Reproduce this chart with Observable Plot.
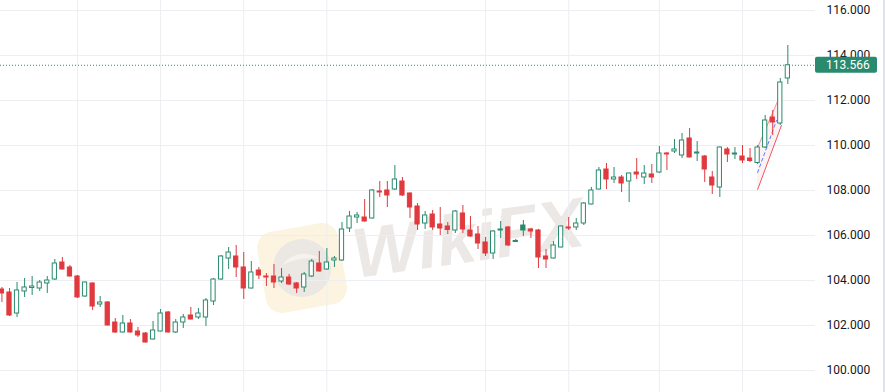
<!DOCTYPE html>
<html>
<head>
<meta charset="utf-8">
<script src="https://cdn.jsdelivr.net/npm/d3@7"></script>
<script src="https://cdn.jsdelivr.net/npm/@observablehq/plot@0.6"></script>
<style>
  html, body { margin: 0; padding: 0; background: #fff; }
  #wrap { position: relative; width: 885px; height: 392px; overflow: hidden; }
  #wm { position: absolute; left: 0; top: 0; z-index: 0; pointer-events: none; }
  #chart { position: relative; z-index: 1; }
  #border { position: absolute; left: 883px; top: 0; width: 2px; height: 392px; background: #e0e3eb; z-index: 2; }
</style>
</head>
<body>
<div id="wrap">
  <svg id="wm" width="885" height="392">
    <g transform="rotate(-10 302 268)">
      <rect x="261" y="227" width="82" height="82" rx="16" fill="#fcf4e0"/>
      <circle cx="302" cy="268" r="29" fill="#ebe7e2"/>
      <path d="M282 262 Q302 246 322 262 Q302 256 282 262 Z" fill="#f6f3ef"/>
    </g>
    <text x="356" y="278" transform="rotate(-8 356 278)" font-family="Liberation Sans, Arial, sans-serif" font-weight="bold" font-style="italic" font-size="70" fill="#ebe8e6">WikiFX</text>
  </svg>
  <div id="chart"></div>
  <div id="border"></div>
</div>
<script>
// ---- Data ----
const opens = [
  103.600,103.467,102.533,103.511,103.667,103.644,103.867,104.044,104.800,104.578,
  104.178,103.289,103.867,102.933,103.022,102.133,101.689,102.089,101.733,101.644,
  101.378,101.733,102.578,101.689,102.133,102.444,102.356,102.356,103.067,104.044,
  104.978,105.067,104.578,103.644,104.444,104.178,104.178,103.956,104.133,103.867,
  103.689,104.178,104.756,104.489,104.889,104.889,106.311,106.800,106.800,106.756,
  107.956,108.000,108.044,108.400,107.867,107.289,106.533,106.933,106.489,106.400,
  106.222,106.978,106.222,106.044,105.689,105.200,106.222,106.356,105.711,106.444,
  106.267,106.222,105.067,104.978,105.467,106.356,106.356,106.533,107.378,108.044,
  108.933,108.489,108.578,108.400,108.800,108.578,108.711,108.800,109.644,109.733,
  109.556,110.311,109.644,109.511,108.578,108.133,109.822,109.600,109.511,109.422,
  109.222,109.911,111.244,110.978,112.978
];
const highs = [
  103.689,103.644,103.911,104.089,104.178,104.000,104.178,104.933,105.022,104.667,
  104.222,103.933,103.889,103.289,103.067,102.311,102.444,102.267,101.911,101.689,
  102.178,102.711,102.622,102.267,102.489,102.800,102.756,103.200,104.089,105.111,
  105.467,105.556,105.244,104.844,104.578,104.311,104.711,104.533,104.267,103.911,
  104.356,104.933,105.289,105.422,105.067,106.578,107.067,107.022,107.600,108.044,
  108.400,108.400,109.111,108.578,107.889,107.422,107.067,107.111,107.244,106.578,
  107.111,107.333,106.844,106.400,105.911,106.222,106.622,106.400,105.822,106.667,
  106.311,106.267,105.378,105.733,106.422,106.800,106.756,107.467,108.133,109.022,
  109.200,109.022,108.667,108.778,109.422,109.111,109.156,109.956,109.689,110.267,
  110.533,110.756,110.178,109.556,108.844,109.933,109.911,109.911,110.000,109.867,
  110.000,111.333,111.556,112.978,114.444
];
const lows = [
  103.022,102.400,102.356,103.244,103.333,103.511,103.422,104.000,104.467,104.156,
  103.200,103.244,102.667,102.800,101.978,101.644,101.667,101.667,101.467,101.222,
  101.356,101.711,101.667,101.644,101.867,102.244,102.267,101.956,102.889,104.000,
  104.489,104.133,103.156,103.622,104.044,103.733,103.644,103.867,103.778,103.422,
  103.467,104.133,104.378,104.444,104.578,104.844,106.133,106.533,106.600,106.733,
  107.689,107.244,108.000,107.733,106.756,106.222,106.267,106.222,106.000,106.044,
  106.089,106.089,105.911,105.378,105.067,104.933,105.867,105.511,105.689,105.956,
  105.867,104.533,104.533,104.956,105.444,106.222,106.222,106.444,107.356,108.022,
  108.044,108.311,107.911,107.467,108.489,108.267,108.311,108.756,108.889,109.644,
  109.422,109.444,109.289,108.356,107.822,107.689,109.244,109.378,109.200,109.244,
  109.156,109.867,110.444,110.889,112.711
];
const closes = [
  103.422,102.444,103.556,103.689,103.733,103.911,104.000,104.756,104.489,104.178,
  103.244,103.911,102.844,103.022,102.000,101.689,102.089,101.689,101.556,101.244,
  101.778,102.533,101.689,102.133,102.356,102.267,102.533,103.111,104.044,105.067,
  105.244,104.578,103.644,104.356,104.222,104.133,103.911,104.133,103.822,103.644,
  104.267,104.844,104.400,104.800,104.978,106.267,106.844,106.889,106.622,108.000,
  107.911,107.778,108.489,107.778,107.244,106.489,106.889,106.356,106.311,106.244,
  107.067,106.267,105.956,105.644,105.200,106.178,106.267,105.556,105.756,106.222,
  106.178,105.022,104.933,105.556,106.400,106.311,106.533,107.422,108.000,108.889,
  108.489,108.578,108.311,108.756,108.711,108.756,108.578,109.644,109.600,109.822,
  110.222,109.467,109.689,108.933,108.222,109.911,109.600,109.644,109.333,109.311,
  109.911,111.111,111.022,112.800,113.566
];
const yTicks = [100, 102, 104, 106, 108, 110, 112, 114, 116];
const dateTicks = [10, 21, 32, 43, 64, 75, 87, 98];   // bar indices of date grid lines
const lastPrice = 113.566;
// drawn channel annotation (bar index, price)
const channelX = [100, 103.15];
const channelLow = [108.044, 110.889];
const channelHigh = [109.911, 112.356];
const midLineX = [100, 102.5];
const midLineY = [108.8, 111.111];

// ---- Build ----
const GREEN = "#2a8a6e", RED = "#e03a3e";
const candles = opens.map((o, i) => ({
  i, open: o, high: highs[i], low: lows[i], close: closes[i],
  up: i === 0 ? closes[i] >= o : closes[i] >= closes[i - 1],
  hollow: closes[i] >= o
}));
const channel = channelX.map((x, k) => ({x, lo: channelLow[k], hi: channelHigh[k]}));
const midLine = midLineX.map((x, k) => ({x, y: midLineY[k]}));
const half = 0.28;

const chart = Plot.plot({
  width: 885, height: 392,
  marginLeft: 0, marginRight: 70, marginTop: 0, marginBottom: 0,
  style: {background: "transparent", fontFamily: "Roboto, sans-serif", fontSize: "12px", color: "#131722"},
  x: {type: "linear", domain: [-0.189, 107.66], axis: null},
  y: {domain: [99.022, 116.444], axis: null},
  color: {type: "identity"},
  marks: [
    Plot.gridY(yTicks, {stroke: "#eceef2", strokeOpacity: 1}),
    Plot.gridX(dateTicks, {stroke: "#eceef2", strokeOpacity: 1}),
    Plot.axisY(yTicks, {anchor: "right", tickSize: 0, tickPadding: 11, tickFormat: d => d.toFixed(3), fill: "#131722", fontSize: 12, textAnchor: "start"}),
    Plot.areaY(channel, {x: "x", y1: "lo", y2: "hi", fill: "#f23645", fillOpacity: 0.07}),
    Plot.line(channel, {x: "x", y: "lo", stroke: "#f0505a", strokeWidth: 1}),
    Plot.line(channel, {x: "x", y: "hi", stroke: "#f0505a", strokeWidth: 1, strokeOpacity: 0.6}),
    Plot.line(midLine, {x: "x", y: "y", stroke: "#2962ff", strokeWidth: 1, strokeDasharray: "3,3", strokeOpacity: 0.8}),
    Plot.ruleY([lastPrice], {stroke: GREEN, strokeDasharray: "1,2", strokeWidth: 1}),
    Plot.ruleX(candles, {x: "i", y1: "low", y2: "high", stroke: d => d.up ? GREEN : RED, strokeWidth: 1}),
    Plot.rect(candles, {
      x1: d => d.i - half, x2: d => d.i + half,
      y1: d => Math.min(d.open, d.close), y2: d => Math.max(d.open, d.close),
      fill: d => d.hollow ? "#ffffff" : (d.up ? GREEN : RED),
      stroke: d => d.up ? GREEN : RED, strokeWidth: 1
    })
  ]
});
document.getElementById("chart").appendChild(chart);

// last-price label on the price scale
const ys = chart.scale("y"), xs = chart.scale("x");
const py = ys.apply(lastPrice), px = xs.range[1];
const svg = d3.select(chart);
svg.append("rect").attr("x", px).attr("y", py - 8).attr("width", 62).attr("height", 16).attr("rx", 2).attr("fill", GREEN);
svg.append("text").attr("x", px + 11).attr("y", py).attr("dy", "0.35em").attr("text-anchor", "start")
  .attr("fill", "#ffffff").attr("font-size", 12).attr("font-family", "Roboto, sans-serif").text(lastPrice.toFixed(3));
</script>
</body>
</html>
